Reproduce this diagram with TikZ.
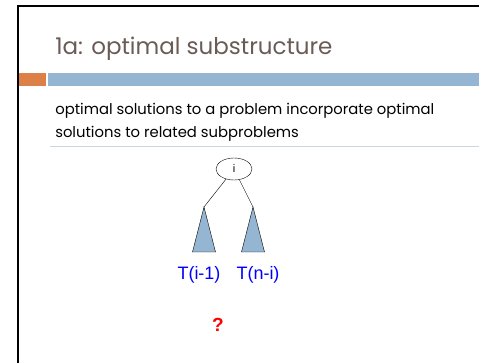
\documentclass[tikz,border=0pt]{standalone}
\usepackage{fontspec}
\setmainfont{Poppins}
\newfontfamily\arialfont{Liberation Sans}
\usetikzlibrary{arrows,shapes}
\definecolor{titlegray}{HTML}{6B5B55}
\definecolor{barorange}{HTML}{DD8047}
\definecolor{barblue}{HTML}{94B6D2}
\definecolor{rulerblue}{HTML}{C5D7E8}

\begin{document}
\begin{tikzpicture}[x=1pt,y=-1pt,semithick]
  \tikzstyle{root}=[ellipse,
                    draw=black,
                    thin,
                    minimum width=36pt,
                    minimum height=22pt,
                    inner sep=0pt,
                    font=\arialfont\fontsize{11}{11}\selectfont]
  \tikzstyle{subtree}=[draw=black,
                       thin,
                       fill=barblue]
  \tikzstyle{tlabel}=[text=blue,
                      inner sep=0pt,
                      font=\arialfont\fontsize{18}{18}\selectfont]
  \tikzstyle{qmark}=[text=red,
                     inner sep=0pt,
                     font=\arialfont\bfseries\fontsize{19}{19}\selectfont]
  \useasboundingbox (0,0) rectangle (479,363);
  %Marco y cabecera
  \draw[line width=2pt] (17.7,363) -- (17.7,5.8) -- (479,5.8);
  \node[anchor=base west, inner sep=0pt, text=titlegray,
        font=\fontsize{23}{23}\selectfont] (title) at (55,55) {1a: optimal substructure};
  \fill[barorange] (19,73) rectangle (46,86);
  \fill[barblue] (48,73) rectangle (479,86);
  %Texto
  \node[anchor=north west, inner sep=0pt, align=left, text=black,
        font=\fontsize{14.8}{23}\selectfont] (body) at (55,103)
        {optimal solutions to a problem incorporate optimal\\solutions to related subproblems};
  \draw[rulerblue, line width=1pt] (50,147) -- (479,147);
  %Arbol
  \node[root] (i) at (234,169) {i};
  \coordinate (L) at (204,207);
  \coordinate (R) at (253,207);
  \draw[subtree] (L) -- ++(-11.5,45) -- ++(23,0) -- cycle;
  \draw[subtree] (R) -- ++(-11.5,45) -- ++(23,0) -- cycle;
  \node[tlabel] (TL) at (199,275) {T(i-1)};
  \node[tlabel] (TR) at (258,275) {T(n-i)};
  \node[qmark] (q) at (218,324.5) {?};

  \path[thin] (i) edge (L)
                  edge (R);
\end{tikzpicture}
\end{document}
